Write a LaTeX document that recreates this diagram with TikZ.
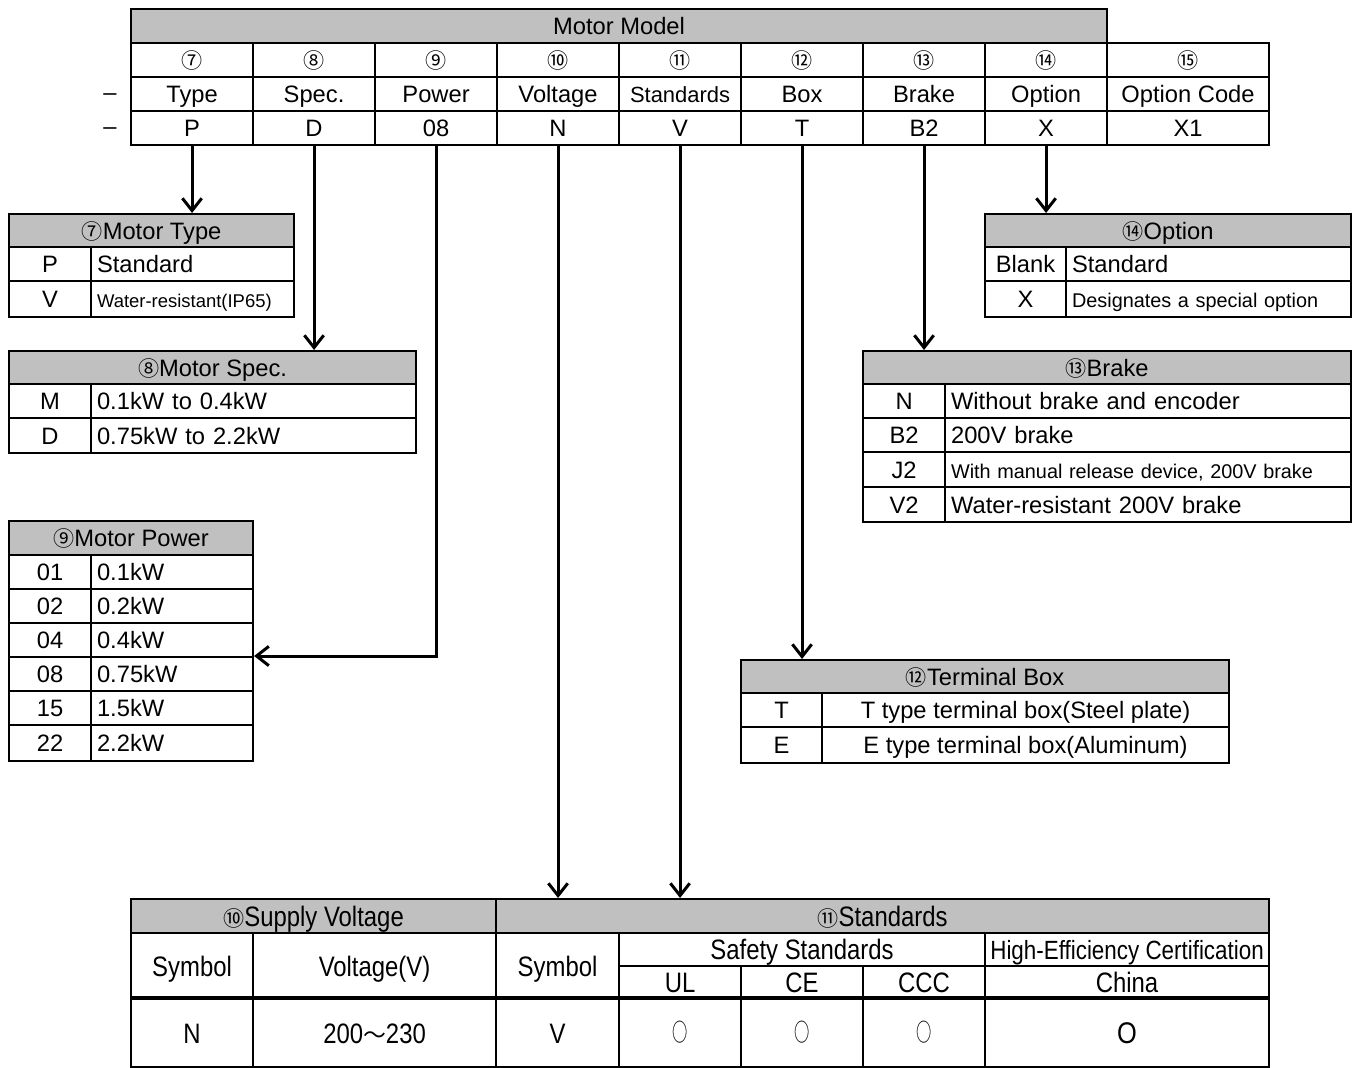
\documentclass[tikz,border=0pt]{standalone}
\usepackage{graphicx}
\usepackage{fontspec}
\setmainfont{Liberation Sans}
\newfontfamily\cjk{Noto Sans CJK JP}
\newfontfamily\narrow[FakeStretch=0.85]{Liberation Sans}
\usetikzlibrary{arrows.meta}
\definecolor{headgray}{HTML}{C0C0C0}
\newcommand{\fs}[1]{\fontsize{#1}{#1}\selectfont}
\newcommand{\okmark}{{\cjk\fs{14}\scalebox{0.62}[1]{○}}}

\tikzset{
  tab/.style={draw, line width=1.2pt, anchor=north west, inner sep=0pt, font=\fs{13.5},
    text height=9.7pt, text depth=0pt},
  cell/.style 2 args={tab, minimum width=#1*0.02cm, minimum height=#2*0.02cm},
  lcell/.style 2 args={cell={#1}{#2}, text width=(#1-12)*0.02cm, align=left},
  head/.style 2 args={cell={#1}{#2}, fill=headgray},
  bfont/.style={font=\narrow\fs{16}, text height=11.5pt},
  arr/.style={line width=1.7pt, -{Straight Barb[length=7pt,width=11pt]}},
}

\begin{document}
\begin{tikzpicture}[x=0.02cm, y=-0.02cm]
    \useasboundingbox (0,0) rectangle (1352,1068);
    % Motor model code
    \node[head={976}{34}] (model) at (130,8) {Motor Model};
    \node[cell={122}{34}, font=\cjk\fs{12}] (numType) at (130,42) {⑦};
    \node[cell={122}{34}, font=\cjk\fs{12}] (numSpec) at (252,42) {⑧};
    \node[cell={122}{34}, font=\cjk\fs{12}] (numPower) at (374,42) {⑨};
    \node[cell={122}{34}, font=\cjk\fs{12}] (numVolt) at (496,42) {⑩};
    \node[cell={122}{34}, font=\cjk\fs{12}] (numStd) at (618,42) {⑪};
    \node[cell={122}{34}, font=\cjk\fs{12}] (numBox) at (740,42) {⑫};
    \node[cell={122}{34}, font=\cjk\fs{12}] (numBrake) at (862,42) {⑬};
    \node[cell={122}{34}, font=\cjk\fs{12}] (numOption) at (984,42) {⑭};
    \node[cell={162}{34}, font=\cjk\fs{12}] (numCode) at (1106,42) {⑮};
    \node[cell={122}{34}] (labType) at (130,76) {Type};
    \node[cell={122}{34}] (labSpec) at (252,76) {Spec.};
    \node[cell={122}{34}] (labPower) at (374,76) {Power};
    \node[cell={122}{34}] (labVolt) at (496,76) {Voltage};
    \node[cell={122}{34}, font=\fs{12.5}] (labStd) at (618,76) {Standards};
    \node[cell={122}{34}] (labBox) at (740,76) {Box};
    \node[cell={122}{34}] (labBrake) at (862,76) {Brake};
    \node[cell={122}{34}] (labOption) at (984,76) {Option};
    \node[cell={162}{34}] (labCode) at (1106,76) {Option Code};
    \node[cell={122}{34}] (valType) at (130,110) {P};
    \node[cell={122}{34}] (valSpec) at (252,110) {D};
    \node[cell={122}{34}] (valPower) at (374,110) {08};
    \node[cell={122}{34}] (valVolt) at (496,110) {N};
    \node[cell={122}{34}] (valStd) at (618,110) {V};
    \node[cell={122}{34}] (valBox) at (740,110) {T};
    \node[cell={122}{34}] (valBrake) at (862,110) {B2};
    \node[cell={122}{34}] (valOption) at (984,110) {X};
    \node[cell={162}{34}] (valCode) at (1106,110) {X1};
    \node[font=\fs{13.5}] (leadA) at (110,97) {–};
    \node[font=\fs{13.5}] (leadB) at (110,131) {–};

    % Motor type
    \node[head={285}{33}] (typeH) at (8,213) {{\cjk\fs{12}⑦}Motor Type};
    \node[cell={82}{34}] (typeP) at (8,246) {P};
    \node[lcell={203}{34}] (typePd) at (90,246) {Standard};
    \node[cell={82}{36}] (typeV) at (8,280) {V};
    \node[lcell={203}{36}, font=\fs{10.5}] (typeVd) at (90,280) {Water-resistant(IP65)};

    % Motor spec
    \node[head={407}{33}] (specH) at (8,350) {{\cjk\fs{12}⑧}Motor Spec.};
    \node[cell={82}{34}] (specM) at (8,383) {M};
    \node[lcell={325}{34}] (specMd) at (90,383) {0.1kW to 0.4kW};
    \node[cell={82}{35}] (specD) at (8,417) {D};
    \node[lcell={325}{35}] (specDd) at (90,417) {0.75kW to 2.2kW};

    % Motor power
    \node[head={244}{34}] (powH) at (8,520) {{\cjk\fs{12}⑨}Motor Power};
    \node[cell={82}{34}] (pw01) at (8,554) {01};
    \node[lcell={162}{34}] (pw01d) at (90,554) {0.1kW};
    \node[cell={82}{34}] (pw02) at (8,588) {02};
    \node[lcell={162}{34}] (pw02d) at (90,588) {0.2kW};
    \node[cell={82}{34}] (pw04) at (8,622) {04};
    \node[lcell={162}{34}] (pw04d) at (90,622) {0.4kW};
    \node[cell={82}{34}] (pw08) at (8,656) {08};
    \node[lcell={162}{34}] (pw08d) at (90,656) {0.75kW};
    \node[cell={82}{34}] (pw15) at (8,690) {15};
    \node[lcell={162}{34}] (pw15d) at (90,690) {1.5kW};
    \node[cell={82}{36}] (pw22) at (8,724) {22};
    \node[lcell={162}{36}] (pw22d) at (90,724) {2.2kW};

    % Option
    \node[head={366}{33}] (optH) at (984,213) {{\cjk\fs{12}⑭}Option};
    \node[cell={81}{34}] (optBlank) at (984,246) {Blank};
    \node[lcell={285}{34}] (optBlankd) at (1065,246) {Standard};
    \node[cell={81}{36}] (optX) at (984,280) {X};
    \node[lcell={285}{36}, font=\fs{11.3}] (optXd) at (1065,280) {Designates a special option};

    % Brake
    \node[head={488}{33}] (brakeH) at (862,350) {{\cjk\fs{12}⑬}Brake};
    \node[cell={82}{34}] (brN) at (862,383) {N};
    \node[lcell={406}{34}] (brNd) at (944,383) {Without brake and encoder};
    \node[cell={82}{34}] (brB) at (862,417) {B2};
    \node[lcell={406}{34}] (brBd) at (944,417) {200V brake};
    \node[cell={82}{35}] (brJ) at (862,451) {J2};
    \node[lcell={406}{35}, font=\fs{11.3}] (brJd) at (944,451) {With manual release device, 200V brake};
    \node[cell={82}{35}] (brV) at (862,486) {V2};
    \node[lcell={406}{35}] (brVd) at (944,486) {Water-resistant 200V brake};

    % Terminal box
    \node[head={488}{33}] (boxH) at (740,659) {{\cjk\fs{12}⑫}Terminal Box};
    \node[cell={81}{34}] (boxT) at (740,692) {T};
    \node[cell={407}{34}] (boxTd) at (821,692) {T type terminal box(Steel plate)};
    \node[cell={81}{36}] (boxE) at (740,726) {E};
    \node[cell={407}{36}] (boxEd) at (821,726) {E type terminal box(Aluminum)};

    % Supply voltage and standards
    \node[head={365}{34}, bfont] (voltH) at (130,898) {{\cjk\fs{12}⑩}Supply Voltage};
    \node[head={773}{34}, bfont] (stdH) at (495,898) {{\cjk\fs{12}⑪}Standards};
    \node[cell={122}{66}, bfont] (vSym) at (130,932) {Symbol};
    \node[cell={243}{66}, bfont] (vVolt) at (252,932) {Voltage(V)};
    \node[cell={123}{66}, bfont] (sSym) at (495,932) {Symbol};
    \node[cell={366}{33}, bfont] (safe) at (618,932) {Safety Standards};
    \node[cell={284}{33}, bfont, font=\narrow\fs{15}] (eff) at (984,932) {High-Efficiency Certification};
    \node[cell={122}{33}, bfont] (ul) at (618,965) {UL};
    \node[cell={122}{33}, bfont] (ce) at (740,965) {CE};
    \node[cell={122}{33}, bfont] (ccc) at (862,965) {CCC};
    \node[cell={284}{33}, bfont] (china) at (984,965) {China};
    \node[cell={122}{68}, bfont] (vN) at (130,998) {N};
    \node[cell={243}{68}, bfont] (vRange) at (252,998) {200{\cjk\fs{13}～}230};
    \node[cell={123}{68}, bfont] (sV) at (495,998) {V};
    \node[cell={122}{68}, text height=10pt] (okUL) at (618,998) {\okmark};
    \node[cell={122}{68}, text height=10pt] (okCE) at (740,998) {\okmark};
    \node[cell={122}{68}, text height=10pt] (okCCC) at (862,998) {\okmark};
    \node[cell={284}{68}, bfont, font=\narrow\fs{17}] (okChina) at (984,998) {O};
    \draw[line width=2.4pt] (vN.north west) -- (okChina.north east);

    % Arrows
    \draw[arr] (valType.south) -- (valType.south |- typeH.north);
    \draw[arr] (valSpec.south) -- (valSpec.south |- specH.north);
    \draw[arr] (valPower.south) |- (pw08d.north east);
    \draw[arr] (valVolt.south) -- (valVolt.south |- stdH.north);
    \draw[arr] (valStd.south) -- (valStd.south |- stdH.north);
    \draw[arr] (valBox.south) -- (valBox.south |- boxH.north);
    \draw[arr] (valBrake.south) -- (valBrake.south |- brakeH.north);
    \draw[arr] (valOption.south) -- (valOption.south |- optH.north);
\end{tikzpicture}
\end{document}
